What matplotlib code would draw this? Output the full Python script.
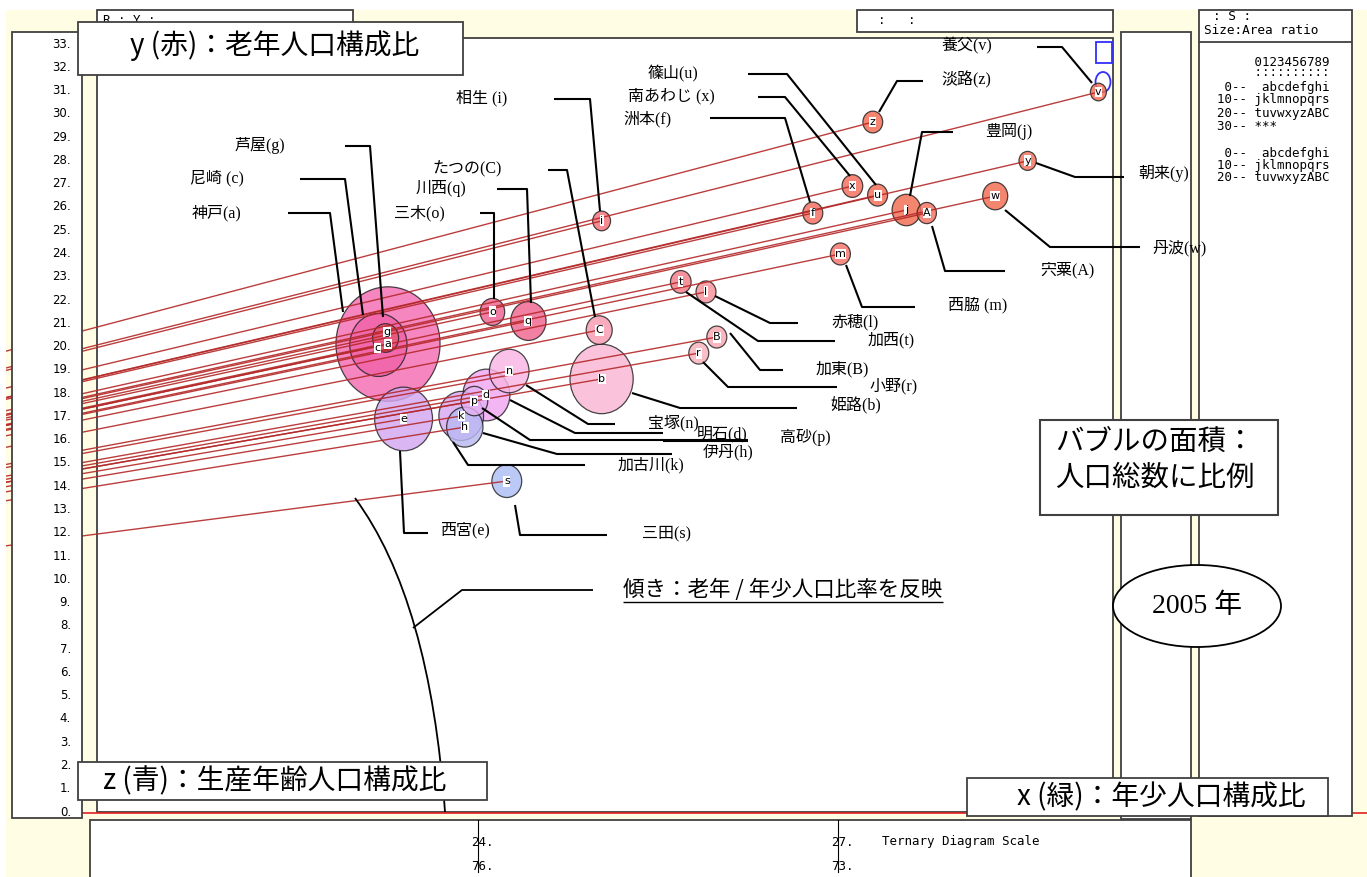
import matplotlib
matplotlib.use("Agg")
import matplotlib.pyplot as plt
from matplotlib.patches import Rectangle, Ellipse, PathPatch
from matplotlib.path import Path
from matplotlib.transforms import Affine2D, blended_transform_factory, offset_copy
import numpy as np

plt.rcParams['font.family'] = ['Noto Sans CJK JP', 'DejaVu Sans']

# ---------------- data ----------------
codes = ['a', 'c', 'g', 'e', 'b', 'd', 'k', 'h', 'p', 'n', 'q', 'o', 'C', 's', 'i',
         't', 'l', 'B', 'r', 'm', 'f', 'x', 'u', 'z', 'j', 'A', 'w', 'y', 'v']
names = ['神戸', '尼崎 ', '芦屋', '西宮', '姫路', '明石', '加古川', '伊丹', '高砂', '宝塚',
         '川西', '三木', 'たつの', '三田', '相生 ', '加西', '赤穂', '加東', '小野', '西脇 ',
         '洲本', '南あわじ ', '篠山', '淡路', '豊岡', '宍粟', '丹波', '朝来', '養父']
# horizontal ternary-diagram coordinate (scale: 24 / 27 on the bottom ruler)
tern_h = [23.25, 23.17, 23.23, 23.38, 25.03, 24.07, 23.86, 23.89, 23.97, 24.26,
          24.42, 24.12, 25.01, 24.24, 25.03, 25.69, 25.90, 25.99, 25.84, 27.02,
          26.79, 27.12, 27.33, 27.29, 27.57, 27.74, 28.31, 28.58, 29.17]
# y : elderly population share (%)
elderly = [20.11, 20.07, 20.37, 16.89, 18.61, 17.92, 17.02, 16.54, 17.66, 18.95,
           21.10, 21.49, 20.71, 14.22, 25.40, 22.78, 22.35, 20.41, 19.72, 23.98,
           25.74, 26.90, 26.51, 29.65, 25.87, 25.74, 26.47, 27.98, 30.94]
# population (10 thousand persons)
population = [152, 46, 9.5, 47, 56, 31, 28, 18.5, 10, 22,
              17.5, 8.5, 9.5, 12.5, 4.5, 6, 5.6, 5.6, 5.6, 5.6,
              5.6, 6, 5.6, 5.5, 11.5, 5.2, 8.8, 4.2, 3.6]
# common vertex of the ratio lines (ternary z-vertex side)
vertex_h, vertex_v = 8.06, 3.44
y_ticks = list(range(0, 34))
scale_pos = [24, 27]
scale_x_lbl = ['24.', '27.']
scale_z_lbl = ['76.', '73.']
year_text = '2005 年'

# ---------------- styles ----------------
colors = ['#F46CB3', '#F062A8', '#EA5574', '#D2A8F0', '#FBB6D3', '#F0A6F2', '#D8A7F0',
          '#B9B9F2', '#E5B2F2', '#F9B5E3', '#F0648E', '#EF6391', '#F79AB0', '#ABBDF5',
          '#F4707C', '#F47A86', '#F6909A', '#F8A6B0', '#F9B0BA', '#F47368', '#F36C5E',
          '#F36B5A', '#F36B55', '#F36A50', '#F26A4F', '#F47060', '#F26B50', '#F3705A',
          '#F46D55']
# small pixel nudges of the in-bubble letters (layout only)
letter_nudge = {'g': (1, -6), 'c': (-1, 3)}

# label positions / leader polylines (pixel layout)
label_layout = {
    'a': (192, 213, [(288, 213), (330, 213), (343, 312)]),
    'c': (190, 178, [(300, 179), (345, 179), (363, 315)]),
    'g': (235, 145, [(345, 146), (370, 146), (383, 317)]),
    'o': (394, 213, [(480, 213), (494, 213), (494, 299)]),
    'q': (416, 188, [(497, 189), (527, 189), (531, 303)]),
    'C': (432, 169, [(548, 170), (567, 170), (595, 317)]),
    'i': (456, 98, [(554, 99), (590, 99), (600, 211)]),
    'f': (623, 119, [(710, 118), (785, 118), (810, 202)]),
    'x': (628, 96, [(758, 97), (785, 97), (850, 176)]),
    'u': (648, 74, [(748, 74), (787, 74), (876, 185)]),
    'z': (941, 80, [(923, 81), (897, 81), (879, 112)]),
    'v': (942, 46, [(1037, 47), (1062, 47), (1092, 83)]),
    'j': (985, 131, [(953, 132), (922, 132), (910, 196)]),
    'y': (1138, 174, [(1036, 163), (1075, 177), (1124, 177)]),
    'w': (1152, 248, [(1005, 210), (1050, 247), (1140, 247)]),
    'A': (1040, 270, [(932, 226), (945, 271), (1005, 271)]),
    'm': (948, 305, [(846, 265), (862, 307), (915, 307)]),
    'l': (831, 322, [(715, 296), (770, 323), (798, 323)]),
    't': (868, 340, [(686, 292), (758, 341), (835, 341)]),
    'B': (816, 369, [(730, 333), (760, 370), (783, 370)]),
    'r': (870, 386, [(703, 362), (728, 387), (837, 387)]),
    'b': (830, 406, [(632, 393), (680, 408), (797, 408)]),
    'n': (648, 423, [(526, 385), (588, 424), (615, 424)]),
    'd': (697, 434, [(510, 400), (575, 433), (663, 433)]),
    'p': (780, 438, [(482, 408), (530, 440), (748, 440)]),
    'h': (703, 452, [(483, 433), (557, 454), (672, 454)]),
    'k': (618, 465, [(453, 442), (468, 465), (585, 465)]),
    'e': (440, 530, [(400, 451), (404, 533), (428, 533)]),
    's': (642, 533, [(515, 505), (520, 535), (607, 535)]),
}

W, H = 1367, 877
PX_PER_H = 120.0     # pixels per horizontal unit
PX_PER_V = 23.27     # pixels per elderly-% unit
X0, Y0 = 478, 812    # pixel of (24, 0)

fig = plt.figure(figsize=(W / 100, H / 100), dpi=100)
fig.patch.set_facecolor('white')
ax = fig.add_axes([0, 0, 1, 1])
ax.set_xlim(24 - X0 / PX_PER_H, 24 + (W - X0) / PX_PER_H)
ax.set_ylim((Y0 - H) / PX_PER_V, Y0 / PX_PER_V)
ax.axis('off')

PX = Affine2D().scale(1 / W, -1 / H).translate(0, 1) + fig.transFigure
EDGE = '#404040'
CREAM = '#FFFDE4'


def rect(x0, y0, x1, y1, z, fc='white', ec=EDGE, lw=1.3):
    p = Rectangle((x0, y0), x1 - x0, y1 - y0, transform=PX, fc=fc, ec=ec, lw=lw, zorder=z)
    ax.add_patch(p)
    return p


def txt(x, y, s, z=8, **kw):
    return ax.text(x, y, s, transform=PX, zorder=z, **kw)


def poly(pts, z=6, color='black', lw=1.5):
    xs, ys = zip(*pts)
    ax.plot(xs, ys, transform=PX, color=color, lw=lw, zorder=z, solid_capstyle='butt')


# background
rect(6, 10, W + 2, H + 2, 0, fc=CREAM, ec='none', lw=0)
# main plot area
rect(97, 38, 1113, 812, 1)
# base red line
ax.plot([82, W], [813, 813], transform=PX, color='#E02020', lw=1.2, zorder=1.5)

# bubbles
for i, c in enumerate(codes):
    r = 4.22 * np.sqrt(population[i])
    e = Ellipse((tern_h[i], elderly[i]), 2 * r / PX_PER_H, 2 * r * 1.1 / PX_PER_V,
                fc=colors[i], ec='#202020', lw=0.9, alpha=0.82, zorder=2)
    ax.add_patch(e)

# ratio lines
clip = Rectangle((6, 0), W, H, transform=PX, fc='none', ec='none')
ax.add_patch(clip)
for i, c in enumerate(codes):
    ln, = ax.plot([vertex_h, tern_h[i]], [vertex_v, elderly[i]], color='#B42828',
                  lw=1.0, alpha=0.9, zorder=3)
    ln.set_clip_path(clip)

# bubble letters
for i, c in enumerate(codes):
    dx, dy = letter_nudge.get(c, (0, 0))
    tr = offset_copy(ax.transData, fig=fig, x=dx, y=-dy, units='dots')
    ax.text(tern_h[i], elderly[i], c, transform=tr, ha='center', va='center', fontsize=8,
            family='DejaVu Sans', zorder=3.5,
            bbox=dict(fc='white', ec='none', pad=0.3))

# blue size markers
ax.add_patch(Rectangle((1096, 42), 16, 21, transform=PX, fc='none', ec='#3030FF', lw=1.3, zorder=1.8))
ax.add_patch(Ellipse((1103, 82), 15, 20, transform=PX, fc='none', ec='#3030FF', lw=1.3, zorder=1.8))

# leader lines and labels
lab_font = ['Liberation Serif', 'Noto Sans CJK JP']
for i, c in enumerate(codes):
    tx, ty, pts = label_layout[c]
    poly(pts, z=6)
    txt(tx, ty, f"{names[i]}({c})", ha='left', va='center', fontsize=11.5, family=lab_font)
# underline under 明石(d)
poly([(663, 441), (748, 441)], z=6)

# slope annotation
curve = Path([(355, 498), (430, 600), (445, 812)], [Path.MOVETO, Path.CURVE3, Path.CURVE3])
ax.add_patch(PathPatch(curve, transform=PX, fc='none', ec='black', lw=1.3, zorder=6))
poly([(593, 590), (462, 590), (413, 628)], z=6, lw=1.3)
txt(623, 590, '傾き：老年 / 年少人口比率を反映', ha='left', va='center', fontsize=15.5)
poly([(623, 602), (943, 602)], z=6, lw=1.0)

# left tick panel
rect(12, 32, 82, 818, 5)
ytr = blended_transform_factory(PX, ax.transData)
for t in y_ticks:
    ax.text(71, t, f"{t}.", transform=ytr, ha='right', va='center', fontsize=8.5,
            family='DejaVu Sans', zorder=6)

# right strip and right panel
rect(1121, 32, 1191, 819, 5)
rect(1199, 10, 1352, 816, 5)
poly([(1199, 42), (1352, 42)], z=6, color=EDGE, lw=1.3)
mono = 'DejaVu Sans Mono'
txt(1213, 17, ': S :', ha='left', va='center', fontsize=9.2, family=mono)
txt(1204, 31, 'Size:Area ratio', ha='left', va='center', fontsize=9.2, family=mono)
legend_rows = ['     0123456789', '     ::::::::::', ' 0--  abcdefghi', '10-- jklmnopqrs',
               '20-- tuvwxyzABC', '30-- ***', ' 0--  abcdefghi', '10-- jklmnopqrs',
               '20-- tuvwxyzABC']
legend_y = [62, 73, 88, 100, 113, 126, 153, 166, 178]
for row, yy in zip(legend_rows, legend_y):
    txt(1217, yy, row, ha='left', va='center', fontsize=9, family=mono)

# top small boxes
rect(97, 10, 353, 31, 5)
txt(103, 20, 'R : Y :', ha='left', va='center', fontsize=9, family=mono, z=5.5)
rect(857, 10, 1113, 32, 5)
txt(878, 21, ':   :', ha='left', va='center', fontsize=9, family=mono, z=5.5)

# bottom scale box
rect(90, 820, 1191, 880, 5)
btr = blended_transform_factory(ax.transData, PX)
for k, pos in enumerate(scale_pos):
    ax.plot([pos, pos], [820, 872], transform=btr, color='black', lw=0.8, zorder=6)
    tr = offset_copy(btr, fig=fig, x=4, y=0, units='dots')
    ax.text(pos, 842, scale_x_lbl[k], transform=tr, ha='center', va='center',
            fontsize=9, family=mono, zorder=6)
    ax.text(pos, 867, scale_z_lbl[k], transform=tr, ha='center', va='center',
            fontsize=9, family=mono, zorder=6)
txt(882, 842, 'Ternary Diagram Scale', ha='left', va='center', fontsize=9, family=mono, z=6)

# axis title boxes
rect(78, 22, 463, 75, 7)
txt(130, 46, 'y (赤)：老年人口構成比', ha='left', va='center', fontsize=20)
rect(78, 762, 487, 800, 7)
txt(103, 781, 'z (青)：生産年齢人口構成比', ha='left', va='center', fontsize=20)
rect(967, 778, 1328, 816, 7)
txt(1017, 797, 'x (緑)：年少人口構成比', ha='left', va='center', fontsize=20)

# bubble area note
rect(1040, 420, 1278, 515, 7, lw=1.5)
txt(1055, 442, 'バブルの面積：', ha='left', va='center', fontsize=20.5)
txt(1055, 478, '人口総数に比例', ha='left', va='center', fontsize=20.5)

# year ellipse
ax.add_patch(Ellipse((1197, 606), 168, 82, transform=PX, fc='white', ec='black', lw=1.3, zorder=7))
txt(1197, 606, year_text, ha='center', va='center', fontsize=20,
    family=['Liberation Serif', 'Noto Sans CJK JP'])

fig.savefig('out.png', dpi=100, facecolor='white')
